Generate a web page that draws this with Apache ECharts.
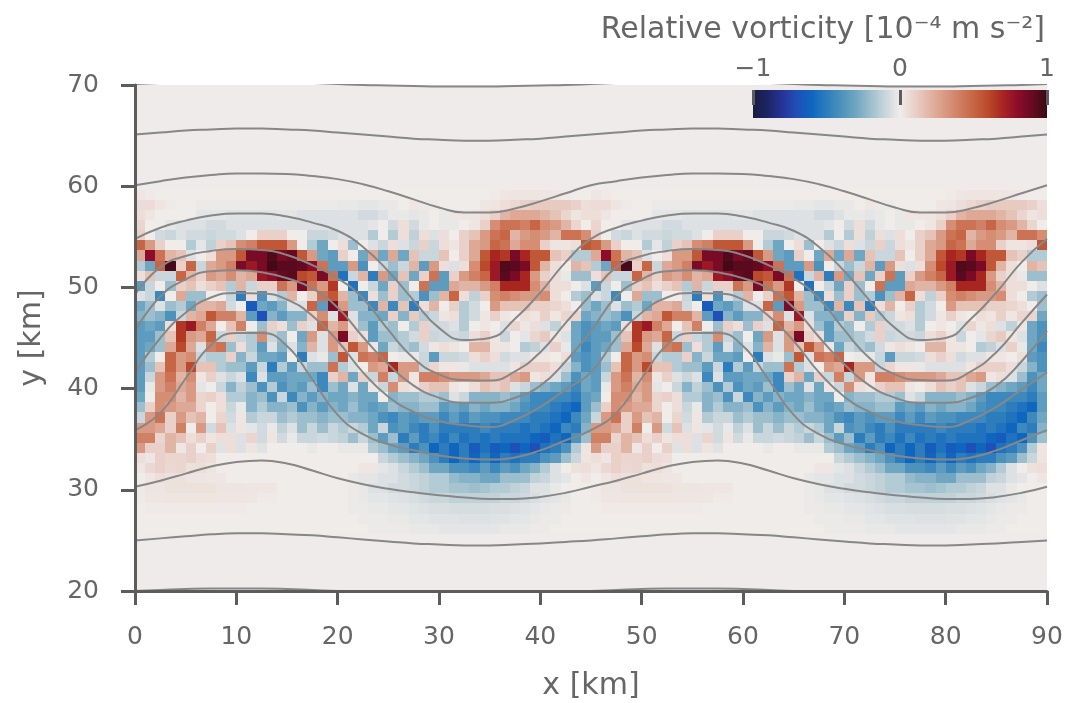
<!DOCTYPE html>
<html><head><meta charset="utf-8">
<style>html,body{margin:0;padding:0;background:#fff}#c{width:1065px;height:703px}</style>
<script src="https://cdn.jsdelivr.net/npm/echarts@6/dist/echarts.min.js"></script>
</head><body><div id="c"></div>
<script>
// Vorticity, in hundredths of the colour-scale unit.
// One wave period (45 columns, 1 km wide); the field repeats over the second period.
const row59=[2,1,0,0,0,0,0,0,0,0,0,0,0,0,0,0,0,0,0,0,0,0, 0,0,0,0,0,0,0,0,0,0,0,0,0,1,2,3,3,3,3,2,1,0,0];
const row58=[6,6,3,1,0,0,-1,-1,-1,-1,-1,-1,-1,-1,-1,-1,-1,-1,-1,-1,-2,-2, -3,-3,-2,-2,0,2,-1,-1,0,0,0,0,2,3,5,7,10,12,12,12,12,10,5];
const row57=[5,2,0,0,0,0,-3,-3,-3,-4,-4,-4,-4,-4,-3,-3,-5,-5,-5,-5,-5,-5, -8,-8,-5,-2,-2,-3,-2,0,-2,2,2,3,5,10,20,25,25,25,20,15,8,3,5];
const row56=[8,0,0,-3,-5,-5,-5,-8,-8,-5,-5,-5,-5,-5,-5,-5,-5,-5,-5,-5,-5,-5, -5,-3,0,-8,5,-8,-2,0,-2,-2,0,2,10,35,45,45,40,50,35,30,20,8,0];
const row55=[10,0,-8,-10,-5,-8,-8,-10,-8,-8,-5,0,10,10,10,0,0,-10,-10,-8,-5,-5, -5,-15,0,-15,5,-12,5,-5,5,0,10,15,30,45,50,20,30,35,30,20,45,45,35];
const row54=[50,30,10,0,0,-15,-3,-12,10,15,35,40,55,55,55,30,0,-15,-30,0,5,-20, 0,-5,-10,5,-5,-10,10,-10,5,3,10,25,30,50,45,25,35,35,10,3,3,5,55];
const row53=[25,80,45,20,15,-5,0,5,30,30,55,85,85,95,85,90,55,30,-30,-35,10,0, -30,25,-30,25,-30,15,-10,-10,15,0,10,25,55,70,65,85,70,55,55,15,10,-15,-15];
const row52=[-15,-30,50,97,10,50,-10,25,30,40,85,75,85,98,93,93,90,80,45,-35,-35,30, -40,0,-10,-20,-10,20,-35,30,5,-5,5,35,60,75,95,93,85,55,20,5,0,20,15];
const row51=[5,15,-10,-10,50,20,10,30,25,35,20,25,75,80,90,93,60,55,85,45,-55,-10, 20,-50,30,-30,15,-30,10,45,-35,10,30,40,50,75,93,85,70,30,10,5,-2,-20,-20];
const row50=[-35,-10,0,-20,10,15,5,10,15,-15,20,-10,10,10,45,30,85,45,30,65,0,-55, 0,-10,-30,10,-20,0,45,-35,-35,25,20,20,30,40,70,70,70,35,20,5,5,0,-5];
const row49=[-5,-10,-45,0,25,-20,-20,0,0,-10,-50,5,-40,-5,-15,20,0,10,45,55,20,-20, -45,5,-20,10,-20,-15,-40,-20,20,50,5,-12,10,35,40,35,30,30,35,5,0,-15,-20];
const row48=[-30,-20,-5,-20,-15,-30,20,20,25,-8,0,-65,-30,-35,-25,-5,-5,50,-35,85,30,-20, -20,-45,20,-45,15,-50,5,20,0,10,-15,-8,0,30,15,15,15,10,10,8,5,0,-20];
const row47=[-25,-20,-25,-40,-10,20,25,55,40,40,20,-35,-70,-25,-35,-25,-25,10,35,-5,75,-5, -25,-25,-30,10,-25,12,-15,-10,3,5,-15,-8,2,10,2,0,5,3,10,2,8,8,-30];
const row46=[-35,-30,-35,5,65,75,40,25,0,15,40,0,-20,10,5,-20,10,-5,50,20,30,5, -20,-35,-15,-20,0,-15,10,-8,-8,-5,-15,0,2,0,-5,8,2,5,-5,-12,3,-30,-40];
const row45=[-35,-35,-20,15,65,30,25,50,-10,10,-10,-15,35,-10,-20,0,-30,30,-5,30,85,10, 5,-35,-20,-20,-15,-8,10,-10,-8,-8,-10,5,10,2,-10,0,-3,8,12,3,-5,-30,-40];
const row44=[-35,-30,-20,25,60,25,-5,40,45,-20,5,-15,-35,-5,-25,-5,-25,20,-5,30,15,55, 30,2,-30,-10,-15,-20,-8,2,5,3,0,20,20,3,3,0,-15,-12,-5,10,-2,-30,-45];
const row43=[-35,-15,0,50,30,35,-10,-15,-15,10,-25,-10,-30,-30,-35,0,-50,-5,-2,-20,55,-5, 45,40,50,0,-2,-2,-10,-35,-10,-10,-8,5,10,5,-8,-5,-5,2,2,0,5,-35,-40];
const row42=[-35,-20,15,50,30,60,15,15,-15,-20,-20,-35,-10,-50,-15,-35,-10,-20,-20,45,-15,-5, 0,30,25,70,30,30,-10,8,2,2,-2,-5,-5,-5,-5,3,10,10,10,5,-10,-25,-40];
const row41=[-35,-10,30,45,20,35,2,10,-5,-10,-5,-45,-5,-35,-35,-30,-30,-30,-45,10,20,-30, 10,-10,40,-10,30,2,40,40,35,30,30,30,25,15,15,25,30,2,5,-5,-20,-40,-30];
const row40=[-35,-2,30,40,25,30,-3,0,-10,-25,-12,-20,-40,-15,-40,-30,-35,-20,-45,-20,-30,-5, -30,2,-10,35,5,2,10,15,15,2,0,5,15,10,15,-5,-10,-20,-25,-30,-35,-45,-30];
const row39=[-30,0,35,35,20,30,8,10,5,-15,-15,-25,-20,-40,-10,-45,-25,-35,-25,-30,-30,-25, -30,-30,0,-25,-20,-20,-15,-15,-20,-5,-10,-25,-25,-25,-20,-25,-35,-45,-45,-45,-45,-50,-35];
const row38=[-20,10,35,30,25,25,8,0,5,-10,-2,-25,-15,-25,-25,-20,-40,-25,-35,-25,-30,-20, -30,-35,-30,-20,-25,-25,-20,-20,-35,-30,-35,-25,-30,-25,-25,-30,-40,-45,-45,-50,-55,-60,-35];
const row37=[-10,30,45,10,30,15,20,0,8,-8,2,-15,-10,-10,-20,-15,-20,-20,-25,-20,-20,-25, -25,-30,-40,-45,-35,-40,-35,-35,-45,-35,-45,-35,-40,-40,-45,-45,-45,-50,-50,-55,-60,-45,-30];
const row36=[30,30,25,10,40,0,30,-8,15,-5,3,-3,-8,-2,-12,-5,-20,-10,-20,-10,-15,-10, -15,-30,-10,-40,-35,-45,-50,-40,-50,-50,-50,-50,-45,-50,-50,-50,-55,-50,-55,-60,-45,-50,-25];
const row35=[40,40,8,20,15,5,10,3,5,5,-5,8,-8,3,-8,-2,-10,-10,-8,-10,-12,-20, -10,-20,-35,-20,-50,-35,-50,-45,-55,-45,-55,-50,-55,-50,-55,-55,-55,-60,-65,-55,-60,-40,-20];
const row34=[30,10,10,20,2,10,0,10,-4,5,-5,3,-4,0,0,0,0,-2,0,0,-2,-2, -2,-15,-20,-30,-35,-50,-40,-60,-50,-60,-50,-65,-55,-65,-60,-70,-60,-70,-55,-50,-40,-15,3];
const row33=[5,2,10,8,8,10,6,5,0,0,0,0,0,0,0,0,0,0,0,0,0,0, 0,0,-10,-15,-20,-25,-30,-40,-50,-60,-50,-60,-50,-60,-50,-55,-50,-50,-40,-35,-20,-10,3];
const row32=[2,7,10,7,8,4,5,3,0,0,0,0,0,0,0,0,0,0,0,0,0,0, 2,2,-3,-5,-10,-15,-20,-30,-30,-40,-40,-45,-35,-45,-35,-40,-30,-25,-15,-5,0,4,5];
const row31=[0,2,5,4,4,3,3,2,2,0,0,0,0,0,0,0,0,0,0,0,0,-2, -3,-3,-5,-5,-8,-10,-12,-15,-15,-22,-25,-25,-30,-30,-20,-20,-20,-12,-10,-5,-3,0,2];
const row30=[1,3,3,4,4,4,4,4,3,3,3,2,2,2,0,0,0,0,0,0,0,-1, -2,-5,-5,-8,-8,-10,-12,-15,-15,-18,-18,-20,-18,-15,-15,-12,-10,-5,-5,-2,0,0,0];
const row29=[1,2,2,3,3,3,3,3,2,2,2,2,1,1,0,0,0,0,0,0,0,-1, -2,-3,-3,-4,-5,-6,-8,-10,-10,-12,-12,-12,-12,-12,-10,-10,-8,-6,-4,-3,-2,0,0];
const row28=[0,1,1,1,1,1,1,1,1,1,1,0,0,0,0,0,0,0,0,0,0,-1, -1,-2,-2,-3,-3,-4,-5,-6,-6,-7,-7,-7,-7,-6,-6,-5,-4,-3,-2,-1,-1,0,0];
const row27=[0,0,0,0,0,0,0,0,0,0,0,0,0,0,0,0,0,0,0,0,0,0, -1,-1,-1,-2,-2,-3,-3,-4,-4,-4,-5,-5,-5,-4,-4,-3,-3,-2,-1,-1,0,0,0];
const row26=[0,0,0,0,0,0,0,0,0,0,0,0,0,0,0,0,0,0,0,0,0,0, 0,-1,-1,-1,-1,-2,-2,-2,-3,-3,-3,-3,-3,-3,-2,-2,-2,-1,-1,0,0,0,0];

const fieldRows={59:row59,58:row58,57:row57,56:row56,55:row55,54:row54,53:row53,52:row52,51:row51,50:row50,49:row49,48:row48,47:row47,46:row46,45:row45,44:row44,43:row43,42:row42,41:row41,40:row40,39:row39,38:row38,37:row37,36:row36,35:row35,34:row34,33:row33,32:row32,31:row31,30:row30,29:row29,28:row28,27:row27,26:row26};

// Contours read at contourX (km) for one period.
const contourX=[0,2.5,5,7.5,10,12.5,15,17.5,20,22.5,25,27.5,30,32.5,35,37.5,40,42.5,45];
const c70=[70.1,70.2,70.3,70.3,70.3,70.3,70.3,70.2,70.1,70,69.95,69.9,69.85,69.85,69.85,69.9,69.95,70,70.1];
const c65=[65.1,65.3,65.5,65.6,65.7,65.7,65.6,65.5,65.3,65.1,64.9,64.7,64.6,64.5,64.5,64.6,64.7,64.9,65.1];
const c60=[60.1,60.5,60.85,61.1,61.25,61.25,61.2,61,60.7,60.2,59.5,58.7,57.9,57.4,57.4,57.8,58.5,59.3,60.1];
const c55=[54.8,55.9,56.6,57.1,57.3,57.3,57,56.4,55.6,54,51.6,48.7,46,44.8,45,46.9,49.5,52.5,54.8];
const c50=[49.3,52,53.1,53.6,53.8,53.7,53.2,52.2,50.9,48.9,45.8,43,41.4,40.85,40.8,41.7,43.6,46.5,49.3];
const c45=[45.7,49.1,50.8,51.6,51.7,51.5,50.9,49.9,48,45.1,42.4,40.3,39.1,38.6,38.6,39.1,40.3,42.7,45.7];
const c40=[41.6,45,47.5,49,49.45,49.4,48.8,47.2,44.7,41.6,39.2,37.7,36.8,36.4,36.2,36.9,38.2,39.9,41.6];
const c35=[35.9,37.6,41,44.3,45.5,45.5,44.2,40.9,37.4,35.5,34.5,33.9,33.4,33.1,33,33.2,33.9,34.9,35.9];
const c30=[30.3,30.9,31.6,32.3,32.75,32.9,32.6,31.9,31.15,30.55,30.1,29.75,29.45,29.25,29.1,29.1,29.3,29.7,30.3];
const c25=[25,25.2,25.4,25.6,25.7,25.7,25.6,25.5,25.3,25.1,24.9,24.7,24.6,24.5,24.5,24.6,24.7,24.85,25];
const c20=[20,20.1,20.2,20.25,20.25,20.25,20.2,20.1,20,19.95,19.9,19.8,19.8,19.8,19.8,19.8,19.85,19.95,20];
const contours=[c70,c65,c60,c55,c50,c45,c40,c35,c30,c25,c20];

const xTicks=[0,90,10], yTicks=[20,70,10];
const titleText='Relative vorticity [10\u207b\u2074 m s\u207b\u00b2]';
const rampColors=['#181c43','#1d2563','#27339a','#1f4fb8','#0f66bf','#2d7dbd','#4c92bc','#6fa6c1','#9dbfcd','#c9d6db','#f0ecea','#e9d0c8','#e1b5a6','#d99a84','#d08064','#c66644','#ba4a2a','#a82520','#8c0c2a','#660a22','#3c0914'];

const PERIOD=45, ROW_SHIFT=0.35;
const cells=[];
Object.keys(fieldRows).forEach(k=>{
  fieldRows[k].forEach((v,c)=>{
    for(let p=0;p<2;p++) cells.push([c+p*PERIOD,+k-ROW_SHIFT,v/100]);
  });
});
const ramp=[];
const RAMP_N=147;
for(let i=0;i<RAMP_N;i++){const v=-1+2*i/RAMP_N;ramp.push([v,0,v+1/RAMP_N]);}

function renderCell(params,api){
  const a=api.coord([api.value(0),api.value(1)+1]);
  const b=api.coord([api.value(0)+1,api.value(1)]);
  const x=Math.round(a[0]),y=Math.round(a[1]);
  return {type:'rect',shape:{x:x,y:y,width:Math.round(b[0])-x,height:Math.round(b[1])-y},style:{fill:api.visual('color')}};
}
function renderRamp(params,api){
  const a=api.coord([api.value(0),1]);
  const b=api.coord([api.value(0)+2/RAMP_N,0]);
  const x=Math.floor(a[0]);
  return {type:'rect',shape:{x:x,y:a[1],width:Math.ceil(b[0])-x,height:b[1]-a[1]},style:{fill:api.visual('color')}};
}
const ink='#666666', spine='#5c5c5c', FONT='DejaVu Sans', TICK=25, LABEL=30;
const lineSeries=contours.map(c=>{
  const pts=[];
  contourX.forEach((x,i)=>pts.push([x,c[i]]));
  contourX.slice(1).forEach((x,i)=>pts.push([x+PERIOD,c[i+1]]));
  return {type:'line',xAxisIndex:0,yAxisIndex:0,data:pts,showSymbol:false,smooth:0.5,clip:true,z:3,silent:true,
    lineStyle:{color:'#878787',width:2}};
});
const chart=echarts.init(document.getElementById('c'),null,{renderer:'canvas'});
chart.setOption({
  animation:false,backgroundColor:'#ffffff',
  textStyle:{fontFamily:FONT},
  title:{text:titleText,right:15,top:10,textStyle:{color:ink,fontSize:LABEL,fontWeight:'normal',fontFamily:FONT}},
  grid:[
    {left:135,top:85,width:912,height:506,show:true,backgroundColor:'#eeebea',borderWidth:0,outerBoundsMode:'none'},
    {left:753,top:90,width:294,height:28,show:false,outerBoundsMode:'none'}
  ],
  xAxis:[
    {gridIndex:0,type:'value',min:xTicks[0],max:xTicks[1],interval:xTicks[2],z:10,
     name:'x [km]',nameLocation:'middle',nameGap:80,nameTextStyle:{color:ink,fontSize:LABEL,fontFamily:FONT},
     axisLine:{show:true,lineStyle:{color:spine,width:3}},axisTick:{show:true,length:14,lineStyle:{color:spine,width:3}},
     axisLabel:{color:ink,fontSize:TICK,margin:34,fontFamily:FONT},splitLine:{show:false}},
    {gridIndex:1,type:'value',min:-1,max:1,interval:1,position:'top',z:10,
     axisLine:{show:false,onZero:false},axisTick:{show:true,inside:true,length:15,lineStyle:{color:spine,width:3}},
     axisLabel:{color:ink,fontSize:TICK,margin:8,fontFamily:FONT,formatter:v=>String(v).replace('-','\u2212')},splitLine:{show:false}}
  ],
  yAxis:[
    {gridIndex:0,type:'value',min:yTicks[0],max:yTicks[1],interval:yTicks[2],z:10,
     name:'y [km]',nameLocation:'middle',nameGap:88,nameTextStyle:{color:ink,fontSize:LABEL,fontFamily:FONT},
     axisLine:{show:true,lineStyle:{color:spine,width:3}},axisTick:{show:true,length:14,lineStyle:{color:spine,width:3}},
     axisLabel:{color:ink,fontSize:TICK,margin:36,fontFamily:FONT},splitLine:{show:false}},
    {gridIndex:1,type:'value',min:0,max:1,show:false}
  ],
  visualMap:{show:false,type:'continuous',min:-1,max:1,dimension:2,seriesIndex:[0,1],inRange:{color:rampColors}},
  series:[
    {type:'custom',xAxisIndex:0,yAxisIndex:0,data:cells,renderItem:renderCell,encode:{x:0,y:1},z:1,silent:true,progressive:0},
    {type:'custom',xAxisIndex:1,yAxisIndex:1,data:ramp,renderItem:renderRamp,encode:{x:0,y:1},z:5,silent:true,progressive:0}
  ].concat(lineSeries)
});
</script></body></html>
